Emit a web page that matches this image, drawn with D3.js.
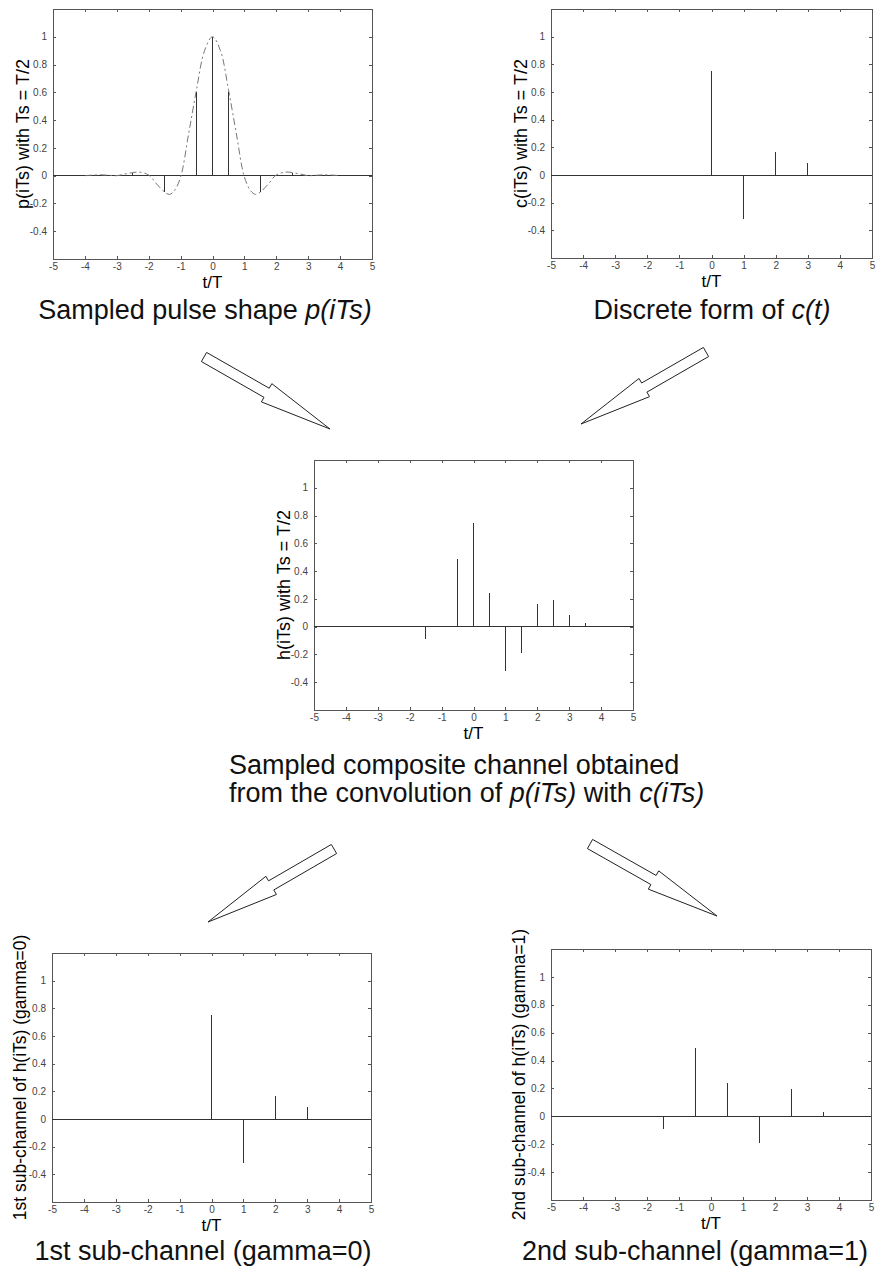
<!DOCTYPE html>
<html>
<head>
<meta charset="utf-8">
<script src="https://cdn.jsdelivr.net/npm/d3@7"></script>
<style>
body { margin: 0; background: #fff; }
svg text { font-family: "Liberation Sans", Arial, sans-serif; }
</style>
</head>
<body>
<div id="fig"></div>
<script>
// axis setup shared by every panel
const xTicks = [-5, -4, -3, -2, -1, 0, 1, 2, 3, 4, 5];
const yTicks = [-0.4, -0.2, 0, 0.2, 0.4, 0.6, 0.8, 1];
const xDomain = [-5, 5];
const yDomain = [-0.6, 1.2];

// sampled pulse p(iTs), Ts = T/2
const pTimes = [-4, -3.5, -3, -2.5, -2, -1.5, -1, -0.5, 0, 0.5, 1, 1.5, 2, 2.5, 3, 3.5, 4];
const pValues = [0, 0.005, 0, 0.02, 0, -0.12, 0, 0.6, 1, 0.6, 0, -0.12, 0, 0.02, 0, 0.005, 0];
// the dash-dot continuous pulse
const curveTimes = [-4, -3.75, -3.5, -3.25, -3, -2.75, -2.5, -2.3, -2, -1.75, -1.5, -1.35, -1.2, -1, -0.75, -0.5, -0.25, 0,
    0.25, 0.5, 0.75, 1, 1.2, 1.35, 1.5, 1.75, 2, 2.3, 2.5, 2.75, 3, 3.25, 3.5, 3.75, 4];
const curveValues = [0, 0.004, 0.006, 0.003, 0, 0.012, 0.022, 0.026, 0.005, -0.06, -0.118, -0.135, -0.11, -0.01, 0.3, 0.62, 0.9, 1,
    0.9, 0.62, 0.3, -0.01, -0.11, -0.135, -0.118, -0.06, 0.005, 0.026, 0.022, 0.012, 0, 0.003, 0.006, 0.004, 0];

// discrete channel c(iTs)
const cTimes = [0, 1, 2, 3];
const cValues = [0.75, -0.32, 0.165, 0.085];

// composite channel h(iTs)
const hTimes = [-3.5, -2.5, -1.5, -0.5, 0, 0.5, 1, 1.5, 2, 2.5, 3, 3.5, 4.5];
const hValues = [0.004, 0.004, -0.09, 0.49, 0.75, 0.245, -0.32, -0.19, 0.165, 0.195, 0.085, 0.03, -0.004];

// sub-channels
const sub0Times = [0, 1, 2, 3];
const sub0Values = [0.75, -0.32, 0.165, 0.085];
const sub1Times = [-3.5, -2.5, -1.5, -0.5, 0.5, 1.5, 2.5, 3.5, 4.5];
const sub1Values = [0.004, 0.004, -0.09, 0.49, 0.24, -0.19, 0.195, 0.03, -0.004];

const AXIS_COLOR = "#555";
const STEM_COLOR = "#333";

let svg = d3.select("#fig")
    .append("svg")
    .attr("width", 876)
    .attr("height", 1272)
    .attr("style", "background-color:#fff; display:block");

let panels = [
    {left: 53, top: 9, width: 319, height: 250, yLabel: "p(iTs) with Ts = T/2", labelSize: 18, labelGap: 30,
        times: pTimes, values: pValues, curve: true},
    {left: 551, top: 9, width: 321, height: 249, yLabel: "c(iTs) with Ts = T/2", labelSize: 18, labelGap: 30,
        times: cTimes, values: cValues},
    {left: 314, top: 460, width: 319, height: 250, yLabel: "h(iTs) with Ts = T/2", labelSize: 18, labelGap: 30,
        times: hTimes, values: hValues},
    {left: 52, top: 953, width: 319, height: 249, yLabel: "1st sub-channel of h(iTs) (gamma=0)", labelSize: 17.5, labelGap: 32,
        times: sub0Times, values: sub0Values},
    {left: 551, top: 949, width: 320, height: 251, yLabel: "2nd sub-channel of h(iTs) (gamma=1)", labelSize: 17.5, labelGap: 32,
        times: sub1Times, values: sub1Values}
];

panels.forEach(p => drawPanel(svg, p));

/**
 * Draws one MATLAB style stem plot inside a boxed axes
 * @param {*} svg d3 selection to draw on
 * @param {*} panel placement, label and data of the panel
 */
function drawPanel(svg, panel){
    let x = d3.scaleLinear().domain(xDomain).range([0, panel.width]);
    let y = d3.scaleLinear().domain(yDomain).range([panel.height, 0]);
    let g = svg.append("g")
        .attr("transform", "translate(" + panel.left + "," + panel.top + ")");

    let fmt = d => String(d);
    g.append("g")
        .attr("transform", "translate(0," + panel.height + ")")
        .call(d3.axisBottom(x).tickValues(xTicks).tickSizeInner(-3).tickSizeOuter(0).tickPadding(4).tickFormat(fmt));
    g.append("g")
        .call(d3.axisTop(x).tickValues(xTicks).tickSizeInner(-3).tickSizeOuter(0).tickFormat(""));
    g.append("g")
        .call(d3.axisLeft(y).tickValues(yTicks).tickSizeInner(-3).tickSizeOuter(0).tickPadding(6).tickFormat(fmt));
    g.append("g")
        .attr("transform", "translate(" + panel.width + ",0)")
        .call(d3.axisRight(y).tickValues(yTicks).tickSizeInner(-3).tickSizeOuter(0).tickFormat(""));

    g.selectAll(".domain, .tick line")
        .attr("stroke", AXIS_COLOR)
        .attr("shape-rendering", "crispEdges");
    g.selectAll(".tick text")
        .attr("fill", "#444")
        .attr("font-size", "10px")
        .attr("font-family", "Liberation Sans, Arial, sans-serif");

    // zero baseline of the stem plot
    g.append("line")
        .attr("x1", x(xDomain[0]))
        .attr("x2", x(xDomain[1]))
        .attr("y1", y(0))
        .attr("y2", y(0))
        .attr("stroke", STEM_COLOR)
        .attr("shape-rendering", "crispEdges");

    if(panel.curve){
        let line = d3.line()
            .x(d => x(d[0]))
            .y(d => y(d[1]))
            .curve(d3.curveCatmullRom);
        g.append("path")
            .datum(d3.zip(curveTimes, curveValues))
            .attr("d", line)
            .attr("fill", "none")
            .attr("stroke", "#777")
            .attr("stroke-width", 1)
            .attr("stroke-dasharray", "7,3,2,3");
    }

    g.selectAll(".stem")
        .data(d3.zip(panel.times, panel.values))
        .join("line")
        .attr("class", "stem")
        .attr("x1", d => x(d[0]))
        .attr("x2", d => x(d[0]))
        .attr("y1", y(0))
        .attr("y2", d => y(d[1]))
        .attr("stroke", STEM_COLOR)
        .attr("shape-rendering", "crispEdges");

    g.append("text")
        .text("t/T")
        .attr("x", panel.width / 2)
        .attr("y", panel.height + 29)
        .attr("font-size", "17px")
        .attr("text-anchor", "middle");

    g.append("text")
        .text(panel.yLabel)
        .attr("transform", "translate(" + (-panel.labelGap) + "," + (panel.height / 2) + ") rotate(-90)")
        .attr("font-size", panel.labelSize + "px")
        .attr("dominant-baseline", "central")
        .attr("text-anchor", "middle");
}

// captions, italic parts as tspans
let captions = [
    {x: 205, y: 319, anchor: "middle", parts: [["Sampled pulse shape ", false], ["p(iTs)", true]]},
    {x: 712, y: 319, anchor: "middle", parts: [["Discrete form of ", false], ["c(t)", true]]},
    {x: 229, y: 774, anchor: "start", parts: [["Sampled composite channel obtained", false]]},
    {x: 229, y: 802, anchor: "start", parts: [["from the convolution of ", false], ["p(iTs)", true], [" with ", false], ["c(iTs)", true]]},
    {x: 203, y: 1260, anchor: "middle", parts: [["1st sub-channel (gamma=0)", false]]},
    {x: 522, y: 1260, anchor: "start", parts: [["2nd sub-channel (gamma=1)", false]]}
];

captions.forEach(c => {
    let t = svg.append("text")
        .attr("x", c.x)
        .attr("y", c.y)
        .attr("font-size", "27px")
        .attr("fill", "#111")
        .attr("text-anchor", c.anchor);
    c.parts.forEach(part => {
        t.append("tspan")
            .text(part[0])
            .attr("font-style", part[1] ? "italic" : "normal");
    });
});

// block arrows between the panels: tail centre -> tip
let arrows = [
    {tail: [204, 357], tip: [330, 429]},
    {tail: [706, 352], tip: [581, 424]},
    {tail: [334, 849], tip: [208, 922]},
    {tail: [590, 844], tip: [717, 916]}
];

arrows.forEach(a => drawArrow(svg, a, 10.5, 21, 73));

/**
 * Draws an outlined block arrow
 */
function drawArrow(svg, a, shaftW, headW, headL){
    let dx = a.tip[0] - a.tail[0];
    let dy = a.tip[1] - a.tail[1];
    let len = Math.sqrt(dx*dx + dy*dy);
    let ux = dx/len, uy = dy/len;
    let nx = -uy, ny = ux;
    let bx = a.tip[0] - ux*headL, by = a.tip[1] - uy*headL;
    let pts = [
        [a.tail[0] + nx*shaftW/2, a.tail[1] + ny*shaftW/2],
        [bx + nx*shaftW/2, by + ny*shaftW/2],
        [bx + nx*headW/2, by + ny*headW/2],
        a.tip,
        [bx - nx*headW/2, by - ny*headW/2],
        [bx - nx*shaftW/2, by - ny*shaftW/2],
        [a.tail[0] - nx*shaftW/2, a.tail[1] - ny*shaftW/2]
    ];
    svg.append("polygon")
        .attr("points", pts.map(p => p.join(",")).join(" "))
        .attr("fill", "#fff")
        .attr("stroke", "#222")
        .attr("stroke-width", 1);
}
</script>
</body>
</html>
